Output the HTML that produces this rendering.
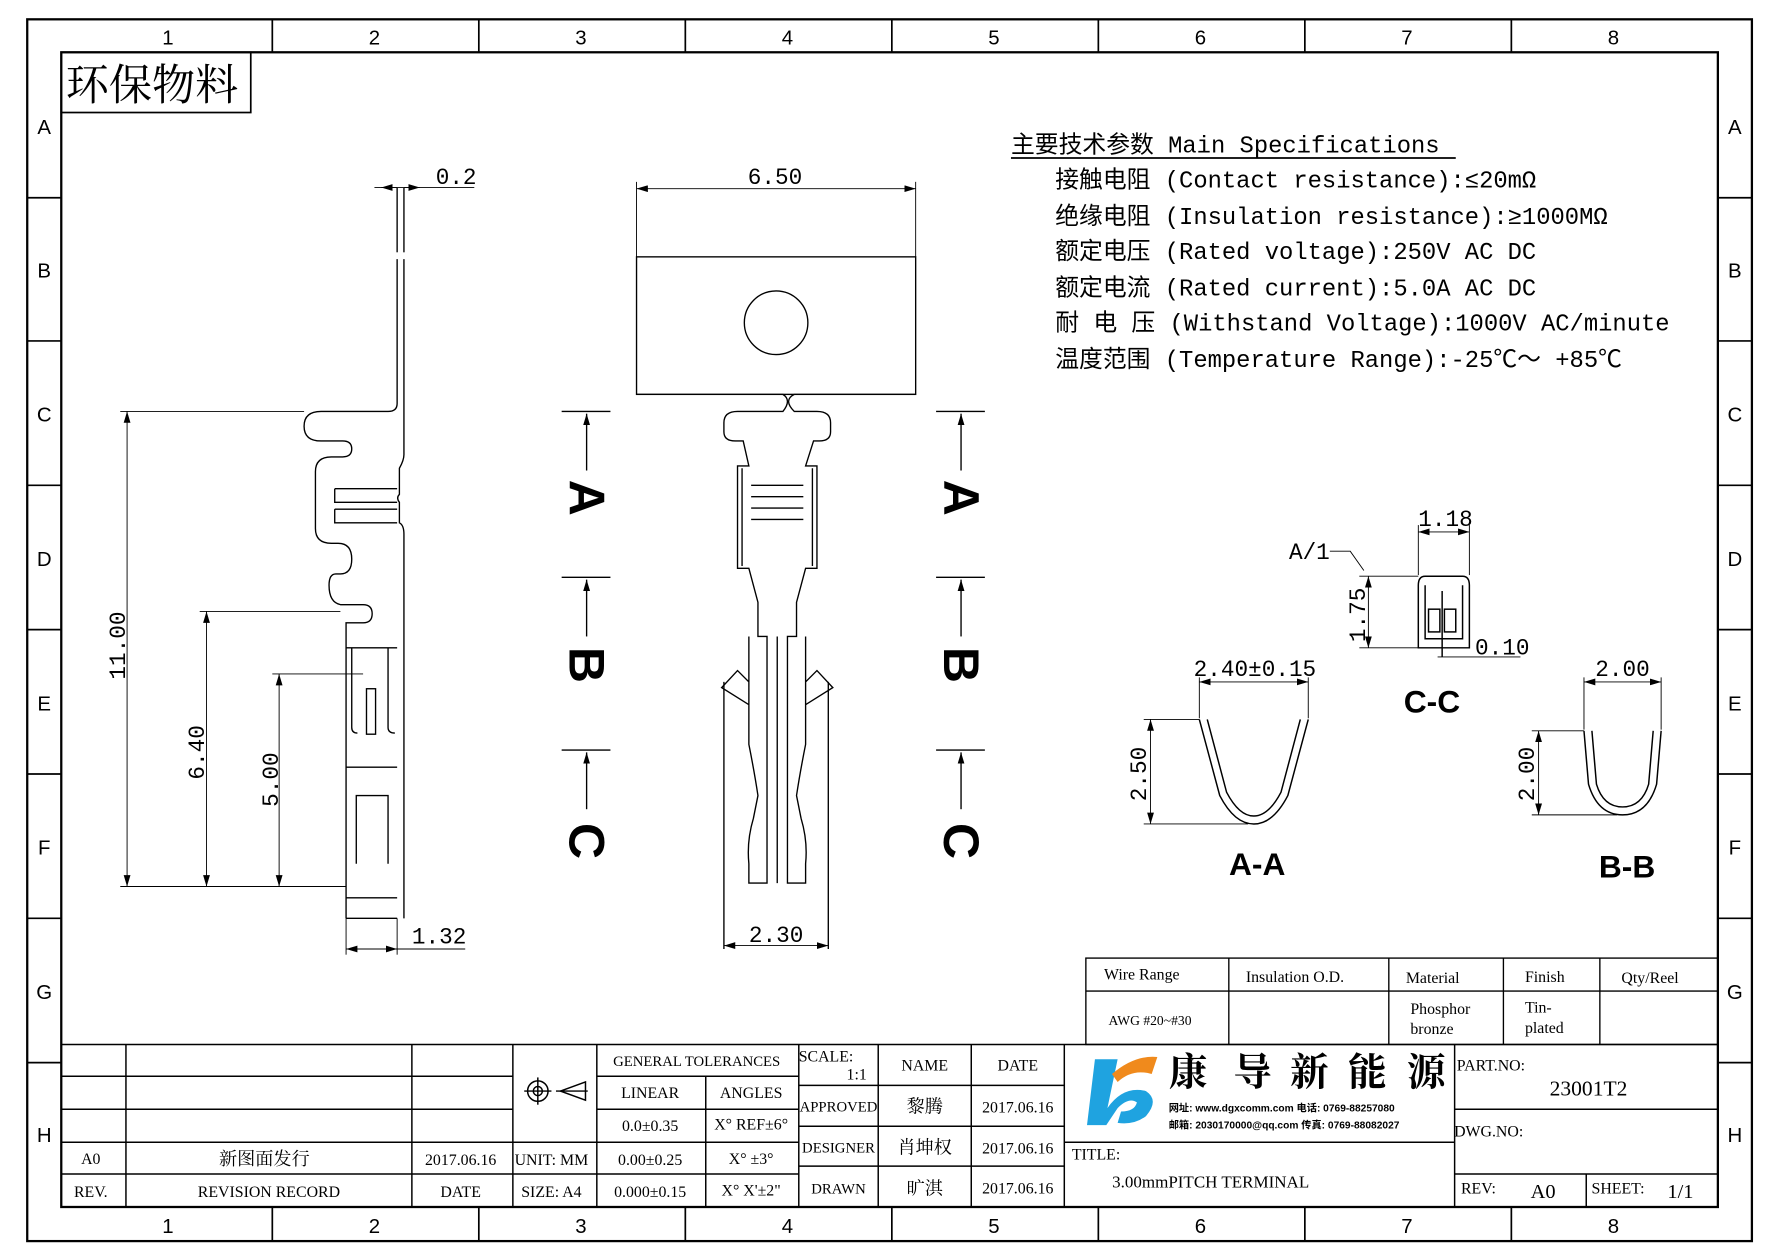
<!DOCTYPE html>
<html><head><meta charset="utf-8"><style>
html,body{margin:0;padding:0;background:#fff}
svg{display:block}
text{font-family:"Liberation Sans","Noto Sans CJK SC",sans-serif;fill:#000}
.s text,text.s{font-family:"Liberation Serif","Noto Serif CJK SC",serif}
.m text,text.m{font-family:"Liberation Mono","Noto Sans CJK SC",monospace}
</style></head><body>
<svg width="1778" height="1257" viewBox="0 0 1567 1106" preserveAspectRatio="none" xmlns="http://www.w3.org/2000/svg">
<defs><marker id="ar" markerWidth="10" markerHeight="6" refX="10" refY="3" orient="auto-start-reverse" markerUnits="userSpaceOnUse"><path d="M0,0 L10,3 L0,6z" fill="#000"/></marker></defs>
<rect width="1567" height="1106" fill="#fff"/>
<g fill="none" stroke="#000" stroke-width="2">
<rect x="24" y="17" width="1520" height="1075"/>
<rect x="54" y="46" width="1460" height="1016"/>
</g>
<g stroke="#000" stroke-width="1.5">
<line x1="240" y1="17" x2="240" y2="46"/><line x1="422" y1="17" x2="422" y2="46"/><line x1="604" y1="17" x2="604" y2="46"/><line x1="786" y1="17" x2="786" y2="46"/><line x1="968" y1="17" x2="968" y2="46"/><line x1="1150" y1="17" x2="1150" y2="46"/><line x1="1332" y1="17" x2="1332" y2="46"/>
<line x1="240" y1="1062" x2="240" y2="1092"/><line x1="422" y1="1062" x2="422" y2="1092"/><line x1="604" y1="1062" x2="604" y2="1092"/><line x1="786" y1="1062" x2="786" y2="1092"/><line x1="968" y1="1062" x2="968" y2="1092"/><line x1="1150" y1="1062" x2="1150" y2="1092"/><line x1="1332" y1="1062" x2="1332" y2="1092"/>
<line x1="24" y1="174" x2="54" y2="174"/><line x1="24" y1="300" x2="54" y2="300"/><line x1="24" y1="427" x2="54" y2="427"/><line x1="24" y1="554" x2="54" y2="554"/><line x1="24" y1="681" x2="54" y2="681"/><line x1="24" y1="808" x2="54" y2="808"/><line x1="24" y1="935" x2="54" y2="935"/>
<line x1="1514" y1="174" x2="1544" y2="174"/><line x1="1514" y1="300" x2="1544" y2="300"/><line x1="1514" y1="427" x2="1544" y2="427"/><line x1="1514" y1="554" x2="1544" y2="554"/><line x1="1514" y1="681" x2="1544" y2="681"/><line x1="1514" y1="808" x2="1544" y2="808"/><line x1="1514" y1="935" x2="1544" y2="935"/>
</g>
<g font-size="18" text-anchor="middle">
<text x="148" y="39">1</text><text x="330" y="39">2</text><text x="512" y="39">3</text><text x="694" y="39">4</text><text x="876" y="39">5</text><text x="1058" y="39">6</text><text x="1240" y="39">7</text><text x="1422" y="39">8</text>
<text x="148" y="1085">1</text><text x="330" y="1085">2</text><text x="512" y="1085">3</text><text x="694" y="1085">4</text><text x="876" y="1085">5</text><text x="1058" y="1085">6</text><text x="1240" y="1085">7</text><text x="1422" y="1085">8</text>
<text x="39" y="118">A</text><text x="39" y="244">B</text><text x="39" y="371">C</text><text x="39" y="498">D</text><text x="39" y="625">E</text><text x="39" y="752">F</text><text x="39" y="879">G</text><text x="39" y="1005">H</text>
<text x="1529" y="118">A</text><text x="1529" y="244">B</text><text x="1529" y="371">C</text><text x="1529" y="498">D</text><text x="1529" y="625">E</text><text x="1529" y="752">F</text><text x="1529" y="879">G</text><text x="1529" y="1005">H</text>
</g>
<rect x="54" y="46" width="167" height="53" fill="none" stroke="#000" stroke-width="1.5"/>
<text x="58" y="88" font-size="38" class="s">环保物料</text>

<!-- specs -->
<g class="m" font-size="21">
<text x="891" y="134">主要技术参数 Main Specifications</text>
<text x="930" y="165">接触电阻 (Contact resistance):≤20mΩ</text>
<text x="930" y="197">绝缘电阻 (Insulation resistance):≥1000MΩ</text>
<text x="930" y="228">额定电压 (Rated voltage):250V AC DC</text>
<text x="930" y="260">额定电流 (Rated current):5.0A AC DC</text>
<text x="930" y="291">耐 电 压 (Withstand Voltage):1000V AC/minute</text>
<text x="930" y="323">温度范围 (Temperature Range):-25℃～ +85℃</text>
</g>
<line x1="891" y1="139" x2="1283" y2="139" stroke="#000" stroke-width="1.5"/>

<!-- side view -->
<g fill="none" stroke="#000" stroke-width="1.2">
<line x1="350" y1="165" x2="350" y2="222"/><line x1="356" y1="165" x2="356" y2="222"/>
<path d="M350,228 V355 Q350,362 342,362 H283 Q268,362 268,375 Q268,388 283,388 H302 Q310,388 310,395 Q310,402 302,402 H292 Q278,402 278,415 V465 Q278,478 292,478 H298 Q310,478 310,492 Q310,505 300,505 H296 Q290,505 290,515 Q290,530 300,532 H320 Q328,532 328,540 Q328,548 320,548 H305 V808"/>
<path d="M356,228 V400 Q356,405 352,412 V435 Q349,438 352,442 V460 Q356,462 356,470 V808"/>
<path d="M295,430 H350 M295,430 V442 H350 M295,448 H350 M295,448 V460 H350"/>
<line x1="305" y1="570" x2="350" y2="570"/>
<path d="M310,570 V640 Q310,645 315,645 M342,570 V640 Q342,645 348,645"/>
<rect x="323" y="606" width="8" height="40"/>
<line x1="305" y1="675" x2="350" y2="675"/>
<path d="M314,760 V700 H342 V760"/>
<line x1="305" y1="790" x2="350" y2="790"/>
<line x1="305" y1="808" x2="350" y2="808"/>
</g>
<g stroke="#000" stroke-width="0.8" fill="none">
<line x1="330" y1="165" x2="418" y2="165"/>
<line x1="350" y1="165" x2="336" y2="165" marker-end="url(#ar)"/>
<line x1="356" y1="165" x2="370" y2="165" marker-end="url(#ar)"/>
<line x1="106" y1="362" x2="268" y2="362"/><line x1="106" y1="780" x2="305" y2="780"/>
<line x1="112" y1="362" x2="112" y2="780" marker-start="url(#ar)" marker-end="url(#ar)"/>
<line x1="176" y1="538" x2="300" y2="538"/>
<line x1="182" y1="538" x2="182" y2="780" marker-start="url(#ar)" marker-end="url(#ar)"/>
<line x1="240" y1="593" x2="320" y2="593"/>
<line x1="246" y1="593" x2="246" y2="780" marker-start="url(#ar)" marker-end="url(#ar)"/>
<line x1="305" y1="808" x2="305" y2="840"/><line x1="350" y1="808" x2="350" y2="840"/>
<line x1="305" y1="835" x2="350" y2="835" marker-start="url(#ar)" marker-end="url(#ar)"/>
<line x1="350" y1="835" x2="410" y2="835"/>
</g>
<g font-size="20" class="m">
<text x="384" y="162">0.2</text>
<text x="363" y="830">1.32</text>
<text transform="translate(110,598) rotate(-90)">11.00</text>
<text transform="translate(180,686) rotate(-90)">6.40</text>
<text transform="translate(245,710) rotate(-90)">5.00</text>
</g>

<!-- front view -->
<g fill="none" stroke="#000" stroke-width="1.2">
<rect x="561" y="226" width="246" height="121"/>
<circle cx="684" cy="284" r="28"/>
<path d="M561,347 H690 Q698,352 690,362 H650 Q638,362 638,372 V380 Q638,388 648,388 H655 L660,410 H650 V500 H660 L668,530 V560 H676 V777 H660 V760 Q658,740 664,720 L668,700 Q665,680 660,655 V600 L650,590 L636,605 L660,620 V560"/>
<path d="M807,347 H700 Q690,352 700,362 H720 Q732,362 732,372 V380 Q732,388 722,388 H717 L710,410 H720 V500 H710 L702,530 V560 H694 V777 H710 V760 Q712,740 706,720 L702,700 Q705,680 710,655 V600 L720,590 L734,605 L710,620 V560"/>
<line x1="685" y1="560" x2="685" y2="777"/>
<line x1="662" y1="427" x2="708" y2="427"/><line x1="662" y1="437" x2="708" y2="437"/><line x1="662" y1="447" x2="708" y2="447"/><line x1="662" y1="457" x2="708" y2="457"/>
<line x1="654" y1="412" x2="654" y2="498"/><line x1="716" y1="412" x2="716" y2="498"/>
<line x1="638" y1="600" x2="638" y2="835"/><line x1="730" y1="600" x2="730" y2="835"/>
</g>
<g stroke="#000" stroke-width="0.8" fill="none">
<line x1="561" y1="160" x2="561" y2="226"/><line x1="807" y1="160" x2="807" y2="226"/>
<line x1="561" y1="166" x2="807" y2="166" marker-start="url(#ar)" marker-end="url(#ar)"/>
<line x1="638" y1="832" x2="730" y2="832" marker-start="url(#ar)" marker-end="url(#ar)"/>
</g>
<g font-size="20" class="m"><text x="659" y="162">6.50</text><text x="660" y="829">2.30</text></g>

<!-- section markers -->
<g stroke="#000" stroke-width="1.2">
<line x1="495" y1="362" x2="538" y2="362"/><line x1="517" y1="414" x2="517" y2="364" marker-end="url(#ar)"/>
<line x1="495" y1="508" x2="538" y2="508"/><line x1="517" y1="560" x2="517" y2="510" marker-end="url(#ar)"/>
<line x1="495" y1="660" x2="538" y2="660"/><line x1="517" y1="712" x2="517" y2="662" marker-end="url(#ar)"/>
<line x1="825" y1="362" x2="868" y2="362"/><line x1="847" y1="414" x2="847" y2="364" marker-end="url(#ar)"/>
<line x1="825" y1="508" x2="868" y2="508"/><line x1="847" y1="560" x2="847" y2="510" marker-end="url(#ar)"/>
<line x1="825" y1="660" x2="868" y2="660"/><line x1="847" y1="712" x2="847" y2="662" marker-end="url(#ar)"/>
</g>
<g font-size="44" font-weight="bold" text-anchor="middle">
<text transform="translate(502,438) rotate(90)">A</text>
<text transform="translate(502,585) rotate(90)">B</text>
<text transform="translate(502,740) rotate(90)">C</text>
<text transform="translate(832,438) rotate(90)">A</text>
<text transform="translate(832,585) rotate(90)">B</text>
<text transform="translate(832,740) rotate(90)">C</text>
</g>

<!-- sections -->
<g fill="none" stroke="#000" stroke-width="1.3">
<path d="M1057,633 L1075,700 Q1088,725 1105,725 Q1122,725 1135,700 L1153,633"/>
<path d="M1064,633 L1081,697 Q1092,718 1105,718 Q1118,718 1129,697 L1146,633"/>
<path d="M1396,643 L1400,690 Q1408,717 1430,717 Q1452,717 1460,690 L1464,643"/>
<path d="M1403,643 L1407,690 Q1413,710 1430,710 Q1447,710 1453,690 L1457,643"/>
<path d="M1250,570 V515 Q1250,507 1256,507 H1289 Q1295,507 1295,515 V570 Z"/>
<path d="M1256,515 V562 H1289 V515"/>
<rect x="1259" y="536" width="10" height="20"/><rect x="1273" y="536" width="10" height="20"/>
<line x1="1271" y1="520" x2="1271" y2="578"/>
</g>
<g stroke="#000" stroke-width="0.8" fill="none">
<line x1="1057" y1="596" x2="1057" y2="632"/><line x1="1153" y1="596" x2="1153" y2="632"/>
<line x1="1057" y1="600" x2="1153" y2="600" marker-start="url(#ar)" marker-end="url(#ar)"/>
<line x1="1008" y1="633" x2="1057" y2="633"/><line x1="1008" y1="725" x2="1100" y2="725"/>
<line x1="1014" y1="633" x2="1014" y2="725" marker-start="url(#ar)" marker-end="url(#ar)"/>
<line x1="1396" y1="596" x2="1396" y2="642"/><line x1="1464" y1="596" x2="1464" y2="642"/>
<line x1="1396" y1="600" x2="1464" y2="600" marker-start="url(#ar)" marker-end="url(#ar)"/>
<line x1="1350" y1="643" x2="1396" y2="643"/><line x1="1350" y1="717" x2="1425" y2="717"/>
<line x1="1356" y1="643" x2="1356" y2="717" marker-start="url(#ar)" marker-end="url(#ar)"/>
<line x1="1250" y1="462" x2="1250" y2="506"/><line x1="1295" y1="462" x2="1295" y2="506"/>
<line x1="1250" y1="468" x2="1295" y2="468" marker-start="url(#ar)" marker-end="url(#ar)"/>
<line x1="1198" y1="507" x2="1250" y2="507"/><line x1="1198" y1="570" x2="1250" y2="570"/>
<line x1="1206" y1="507" x2="1206" y2="570" marker-start="url(#ar)" marker-end="url(#ar)"/>
<path d="M1172,485 H1190 L1202,502"/>
<line x1="1267" y1="578" x2="1340" y2="578"/>
</g>
<g font-size="20" class="m">
<text x="1052" y="595">2.40±0.15</text><text x="1406" y="595">2.00</text><text x="1250" y="463">1.18</text>
<text x="1300" y="576">0.10</text><text x="1136" y="492">A/1</text>
<text transform="translate(1010,705) rotate(-90)">2.50</text>
<text transform="translate(1352,705) rotate(-90)">2.00</text>
<text transform="translate(1203,565) rotate(-90)">1.75</text>
</g>
<g font-size="28" font-weight="bold" text-anchor="middle">
<text x="1108" y="770">A-A</text><text x="1262" y="627">C-C</text><text x="1434" y="772">B-B</text>
</g>

<!-- spec table -->
<g fill="none" stroke="#000" stroke-width="1.2">
<rect x="957" y="843" width="557" height="76"/>
<line x1="957" y1="872" x2="1514" y2="872"/>
<line x1="1083" y1="843" x2="1083" y2="919"/><line x1="1224" y1="843" x2="1224" y2="919"/><line x1="1325" y1="843" x2="1325" y2="919"/><line x1="1410" y1="843" x2="1410" y2="919"/>
</g>
<g class="s" font-size="14">
<text x="973" y="862">Wire Range</text><text x="1098" y="864">Insulation O.D.</text><text x="1239" y="865">Material</text><text x="1344" y="864">Finish</text><text x="1429" y="865">Qty/Reel</text>
<text x="977" y="902" font-size="12">AWG #20~#30</text>
<text x="1243" y="892">Phosphor</text><text x="1243" y="910">bronze</text>
<text x="1344" y="891">Tin-</text><text x="1344" y="909">plated</text>
</g>

<!-- title block -->
<g fill="none" stroke="#000" stroke-width="1.3">
<line x1="54" y1="919" x2="1514" y2="919"/>
<line x1="54" y1="947" x2="452" y2="947"/><line x1="54" y1="976" x2="452" y2="976"/><line x1="54" y1="1005" x2="452" y2="1005"/><line x1="54" y1="1033" x2="452" y2="1033"/>
<line x1="111" y1="919" x2="111" y2="1062"/><line x1="363" y1="919" x2="363" y2="1062"/><line x1="452" y1="919" x2="452" y2="1062"/><line x1="526" y1="919" x2="526" y2="1062"/>
<line x1="452" y1="1005" x2="526" y2="1005"/><line x1="452" y1="1033" x2="526" y2="1033"/>
<line x1="526" y1="947" x2="704" y2="947"/><line x1="526" y1="976" x2="704" y2="976"/><line x1="526" y1="1005" x2="704" y2="1005"/><line x1="526" y1="1033" x2="704" y2="1033"/>
<line x1="622" y1="947" x2="622" y2="1062"/><line x1="704" y1="919" x2="704" y2="1062"/>
<line x1="774" y1="919" x2="774" y2="1062"/><line x1="856" y1="919" x2="856" y2="1062"/><line x1="938" y1="919" x2="938" y2="1062"/>
<line x1="704" y1="955" x2="938" y2="955"/><line x1="704" y1="991" x2="938" y2="991"/><line x1="704" y1="1026" x2="938" y2="1026"/>
<line x1="938" y1="1005" x2="1282" y2="1005"/><line x1="1282" y1="919" x2="1282" y2="1062"/>
<line x1="1282" y1="976" x2="1514" y2="976"/><line x1="1282" y1="1033" x2="1514" y2="1033"/><line x1="1398" y1="1033" x2="1398" y2="1062"/>
</g>
<g class="s" font-size="14" text-anchor="middle">
<text x="80" y="1024">A0</text><text x="233" y="1025" font-size="16">新图面发行</text><text x="406" y="1025">2017.06.16</text>
<text x="80" y="1053">REV.</text><text x="237" y="1053">REVISION RECORD</text><text x="406" y="1053">DATE</text>
<text x="486" y="1025">UNIT: MM</text><text x="486" y="1053">SIZE: A4</text>
<text x="614" y="938" font-size="13">GENERAL TOLERANCES</text>
<text x="573" y="966">LINEAR</text><text x="662" y="966">ANGLES</text>
<text x="573" y="995">0.0±0.35</text><text x="662" y="994">X° REF±6°</text>
<text x="573" y="1025">0.00±0.25</text><text x="662" y="1024">X° ±3°</text>
<text x="573" y="1053">0.000±0.15</text><text x="662" y="1052">X° X'±2"</text>
<text x="728" y="934">SCALE:</text><text x="755" y="950">1:1</text>
<text x="815" y="942">NAME</text><text x="897" y="942">DATE</text>
<text x="739" y="978" font-size="13">APPROVED</text><text x="815" y="979" font-size="16">黎腾</text><text x="897" y="979">2017.06.16</text>
<text x="739" y="1014" font-size="13">DESIGNER</text><text x="815" y="1015" font-size="16">肖坤权</text><text x="897" y="1015">2017.06.16</text>
<text x="739" y="1050" font-size="13">DRAWN</text><text x="815" y="1051" font-size="16">旷淇</text><text x="897" y="1050">2017.06.16</text>
<text x="966" y="1020">TITLE:</text><text x="1067" y="1045" font-size="15">3.00mmPITCH TERMINAL</text>
<text x="1314" y="942">PART.NO:</text><text x="1400" y="964" font-size="19">23001T2</text>
<text x="1312" y="1000">DWG.NO:</text>
<text x="1303" y="1050">REV:</text><text x="1360" y="1054" font-size="18">A0</text>
<text x="1426" y="1050">SHEET:</text><text x="1481" y="1054" font-size="18">1/1</text>
</g>
<g fill="none" stroke="#000" stroke-width="1.3">
<circle cx="474" cy="960" r="9"/><circle cx="474" cy="960" r="4"/>
<line x1="462" y1="960" x2="486" y2="960"/><line x1="474" y1="948" x2="474" y2="972"/>
<path d="M494,960 L516,952 V968 Z"/><line x1="490" y1="960" x2="518" y2="960"/>
</g>
<!-- logo -->
<path d="M965,932 H985 L976,975 Q990,955 1010,960 Q1022,968 1010,982 Q1000,990 985,988 L988,978 Q1000,978 1002,970 Q995,965 985,975 L975,990 H958 Z" fill="#1fa3e0"/>
<path d="M980,945 Q1000,928 1020,930 L1015,945 Q998,940 985,952 Z" fill="#f08a1c"/>
<g font-size="34" class="s" font-weight="bold"><text x="1030" y="955">康</text><text x="1087" y="955">导</text><text x="1137" y="955">新</text><text x="1188" y="955">能</text><text x="1240" y="955">源</text></g>
<g font-size="9" font-weight="bold"><text x="1030" y="978">网址: www.dgxcomm.com  电话: 0769-88257080</text><text x="1030" y="993">邮箱: 2030170000@qq.com 传真: 0769-88082027</text></g>
</svg>
</body></html>
